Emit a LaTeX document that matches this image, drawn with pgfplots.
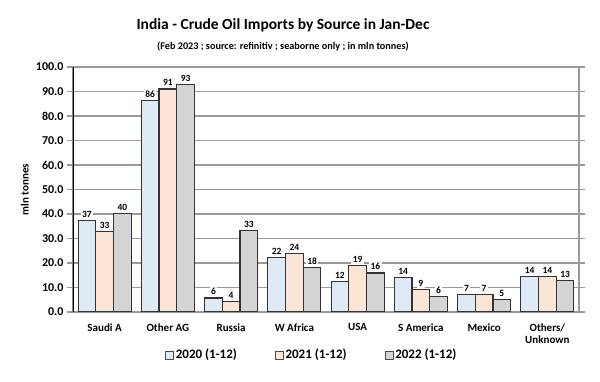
\documentclass[border=0pt]{standalone}
\usepackage{pgfplots}
\pgfplotsset{compat=1.18}
\usepackage{fontspec}
\setmainfont{Carlito}
\definecolor{cA}{HTML}{DEEBF7}
\definecolor{cB}{HTML}{FBE5D6}
\definecolor{cC}{HTML}{D4D4D4}
\definecolor{gridc}{HTML}{9A9A9A}
\begin{document}
\begin{tikzpicture}[font=\bfseries]
\useasboundingbox (-73pt,-70pt) rectangle (527pt,312pt);
\begin{axis}[
  at={(0pt,0pt)}, anchor=south west,
  scale only axis, width=506pt, height=245pt,
  ybar=0pt, bar width=17.7pt,
  xmin=-0.5, xmax=7.5, ymin=0, ymax=100,
  xtick={0,...,7},
  xticklabels={Saudi A,Other AG,Russia,W Africa,USA,S America,Mexico,{Others/\\Unknown}},
  xticklabel style={align=center, font=\bfseries\fontsize{11}{12.5}\selectfont, yshift=-2pt},
  x tick style={draw=none},
  ytick={0,10,...,100},
  yticklabel style={font=\bfseries\fontsize{12}{13}\selectfont},
  y tick label style={/pgf/number format/.cd, fixed, fixed zerofill, precision=1, assume math mode=true},
  y tick style={gridc, line width=1.2pt},
  tick align=outside, major tick length=6pt,
  ymajorgrids, grid style={gridc, line width=1.2pt},
  axis line style={gridc, line width=1.2pt},
  ylabel={mln tonnes},
  ylabel style={at={(axis description cs:-0.095,0.5)}, anchor=center, font=\bfseries\fontsize{11}{12}\selectfont},
  nodes near coords={\pgfmathprintnumber[fixed,precision=0,assume math mode=true]{\pgfplotspointmeta}},
  every node near coord/.append style={font=\bfseries\fontsize{9.5}{10}\selectfont, fill=white, inner sep=1.5pt, anchor=south, yshift=1pt},
  legend style={at={(axis description cs:0.472,-0.175)}, anchor=center, draw=none, fill=none,
    legend columns=3, /tikz/every even column/.append style={column sep=36pt},
    font=\bfseries\fontsize{13}{14}\selectfont},
  legend image code/.code={\draw[#1, draw=black!70, line width=0.6pt] (0pt,-4pt) rectangle (8pt,4pt);},
  every axis plot/.append style={draw=black!80, line width=1.1pt},
]
\addplot[fill=cA] coordinates {(0,37.2) (1,86.4) (2,5.7) (3,22.3) (4,12.4) (5,14.0) (6,7.2) (7,14.4)};
\addplot[fill=cB] coordinates {(0,32.8) (1,91.0) (2,4.2) (3,24.0) (4,19.0) (5,9.3) (6,7.2) (7,14.4)};
\addplot[fill=cC] coordinates {(0,40.2) (1,92.8) (2,33.4) (3,18.3) (4,15.9) (5,6.3) (6,5.0) (7,12.8)};
\legend{2020 (1-12),2021 (1-12),2022 (1-12)}
\draw[black, line width=1.2pt] (rel axis cs:0,0) -- (rel axis cs:0,1);
\end{axis}
\node at (210pt,287pt) {\fontsize{15.5}{18}\selectfont India - Crude Oil Imports by Source in Jan-Dec};
\node at (210pt,265pt) {\fontsize{10.2}{12}\selectfont (Feb 2023 ; source: refinitiv ; seaborne only ; in mln tonnes)};
\end{tikzpicture}
\end{document}
